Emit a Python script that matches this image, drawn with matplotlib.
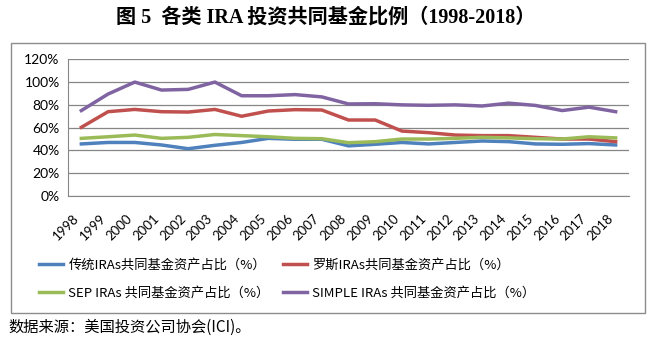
import numpy as np
import matplotlib
matplotlib.use("Agg")
import matplotlib.pyplot as plt
from matplotlib.patches import Rectangle

years = [str(y) for y in range(1998, 2019)]
trad = [45.7, 47, 47, 44.8, 41.5, 44.5, 47, 50.6, 49.8, 49.8, 44, 45.4, 47, 45.7, 47, 48.3, 47.7, 45.7, 45.4, 46, 44.8]
roth = [60.3, 74, 76, 74, 73.7, 76, 70, 74.6, 75.8, 75.5, 66.7, 66.7, 57, 55.6, 53.5, 53, 53, 51.5, 50, 50, 47.7]
sep = [50.6, 52, 53.5, 50.6, 51.5, 54, 53, 52, 50.6, 50.3, 46.8, 47.7, 50, 50, 50.6, 51.5, 51, 50.3, 50, 52, 51]
simple = [75, 89.5, 100, 93, 93.6, 100, 88, 88, 89, 87, 80.8, 81, 80, 79.6, 80, 79, 81.5, 79.5, 75, 78, 74]

labels = ["传统IRAs共同基金资产占比（%）", "罗斯IRAs共同基金资产占比（%）",
          "SEP IRAs 共同基金资产占比（%）", "SIMPLE IRAs 共同基金资产占比（%）"]
colors = ["#4F81BD", "#C0504D", "#9BBB59", "#8064A2"]

W, H = 652, 342
fig = plt.figure(figsize=(W/100, H/100), dpi=100)
ax = fig.add_axes([68/W, 1-196/H, (629-68)/W, (196-59.3)/H])

x = np.arange(len(years))
lines = []
for vals, c, lab in zip([trad, roth, sep, simple], colors, labels):
    ln, = ax.plot(x, np.array(vals)/100, color=c, lw=2.5, label=lab, solid_joinstyle="round")
    lines.append(ln)

ax.set_xlim(-0.5, len(years)-0.5)
ax.set_ylim(0, 1.2)
yt = np.arange(0, 1.21, 0.2)
ax.set_yticks(yt)
ax.set_yticklabels([f"{int(round(v*100))}%" for v in yt], fontfamily="Lato", fontsize=10)
ax.grid(axis="y", color="#868686", lw=0.9)
ax.set_axisbelow(True)
ax.set_xticks(x)
ax.set_xticklabels(years, rotation=45, ha="right", va="top", fontfamily="Lato", fontsize=9.5)
ax.tick_params(axis="x", length=0, pad=11.5)
ax.tick_params(axis="y", length=0, pad=6)
for s in ["top", "right"]:
    ax.spines[s].set_visible(False)
ax.spines["left"].set_color("#868686")
ax.spines["bottom"].set_color("#868686")

fig.patches.append(Rectangle((11/W, 1-313/H), (645-11)/W, (313-43)/H, transform=fig.transFigure,
                             fill=False, edgecolor="#8c8c8c", lw=1))

order = [0, 2, 1, 3]
fig.legend([lines[i] for i in order], [labels[i] for i in order], ncol=2,
           loc="upper left", bbox_to_anchor=(34/W, 1-253/H), frameon=False,
           prop={"family": ["Noto Sans CJK SC", "DejaVu Sans"], "size": 9.5},
           handlelength=1.8, handletextpad=0.4,
           columnspacing=1.0, labelspacing=1.2, borderaxespad=0)

fig.text(0.5, 1-18/H, "图 5  各类 IRA 投资共同基金比例（1998-2018）", ha="center", va="center",
         fontsize=14.5, fontweight="bold", family=["Liberation Serif", "Noto Sans CJK SC"])
fig.text(8/W, 1-327/H, "数据来源：美国投资公司协会(ICI)。", ha="left", va="center",
         fontsize=11, family=["Noto Sans CJK SC", "DejaVu Sans"])

fig.savefig("out.png", dpi=100)
